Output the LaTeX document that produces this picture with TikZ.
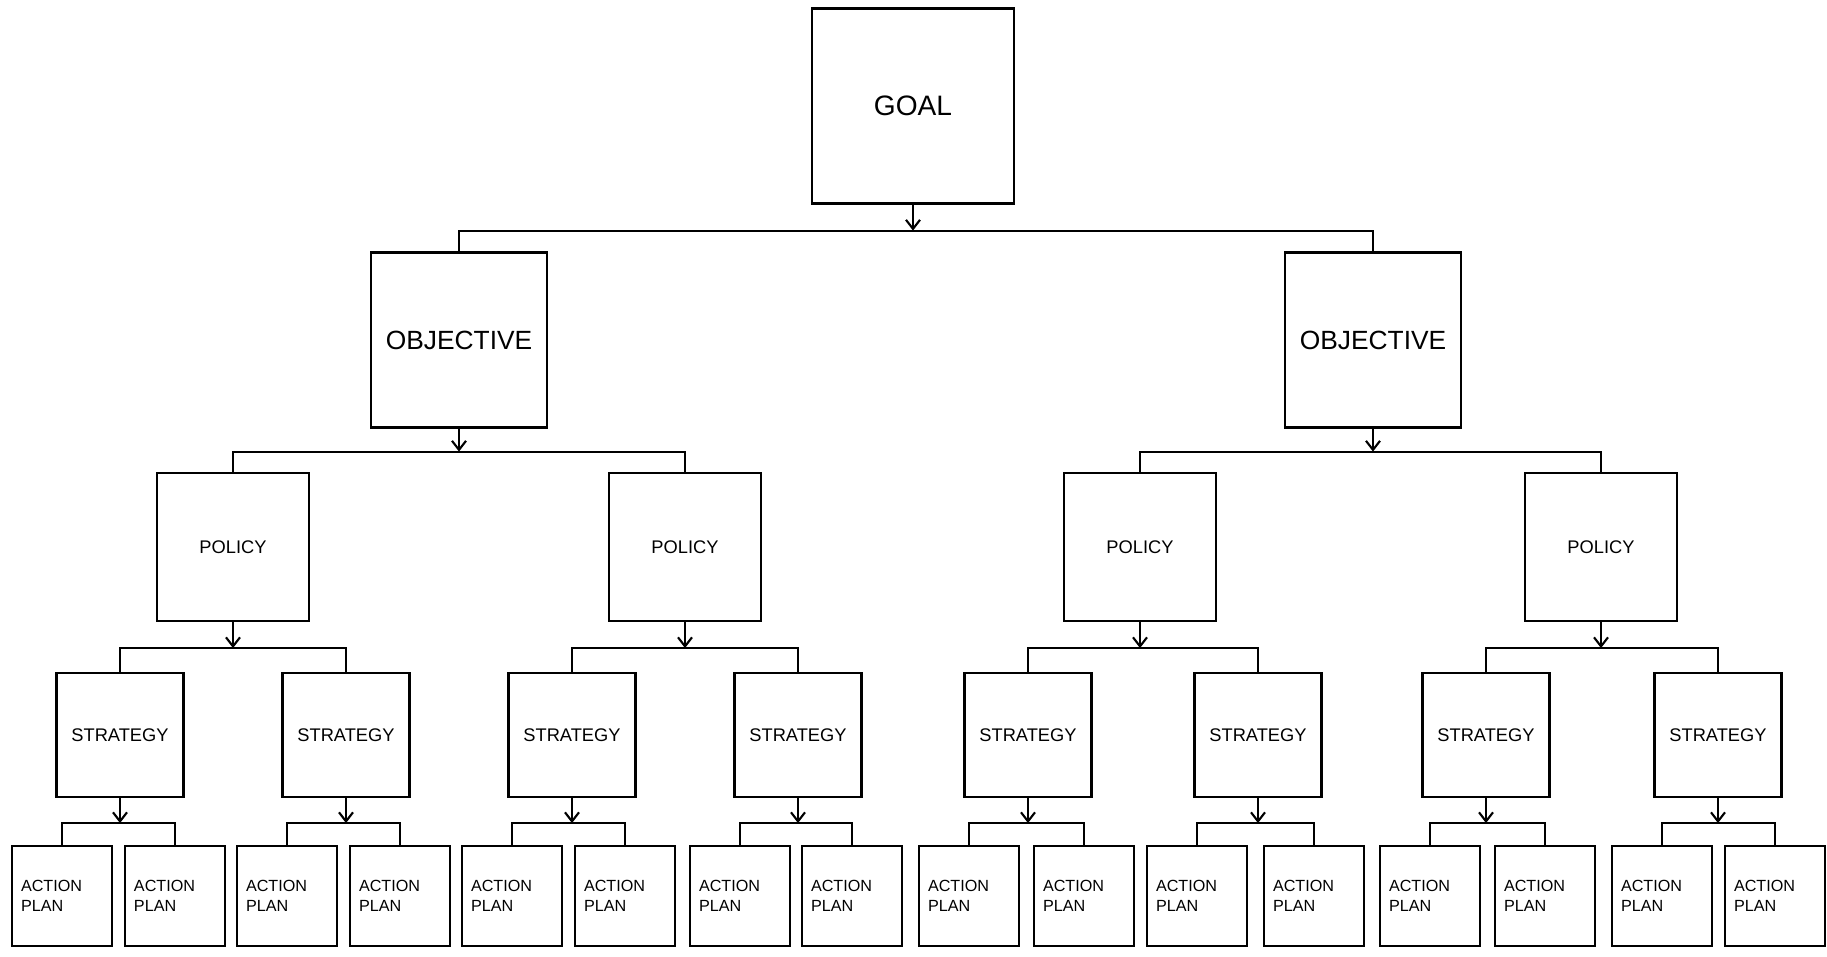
\documentclass[tikz,border=0pt]{standalone}
\usepackage{fontspec}
\setmainfont{Liberation Sans}
\usetikzlibrary{arrows.meta}
\tikzset{box/.style={draw, line width=0.6pt, inner sep=0pt},
	goalbox/.style={box, minimum width=20.2mm, minimum height=19.5mm, font=\fontsize{8}{9}\selectfont},
	objbox/.style={box, minimum width=17.6mm, minimum height=17.5mm, font=\fontsize{7.5}{9}\selectfont},
	polbox/.style={box, minimum width=15.2mm, minimum height=14.8mm, font=\fontsize{5.2}{6}\selectfont},
	strbox/.style={box, minimum width=12.7mm, minimum height=12.4mm, font=\fontsize{5.2}{6}\selectfont},
	actbox/.style={box, minimum width=10mm, minimum height=10mm, text width=8.2mm, inner xsep=0.9mm,
		align=left, font=\fontsize{4.6}{5.7}\selectfont},
	link/.style={line width=0.6pt},
	down/.style={link, -{Straight Barb[length=0.9mm,width=1.4mm]}}}

\begin{document}
\begin{tikzpicture}[x=0.1mm, y=-0.1mm]
		\useasboundingbox (0,0) rectangle (1827,956);
		\node[goalbox] (goal) at (913,106){GOAL};
		\node[objbox] (obj1) at (459,340){OBJECTIVE};
		\node[objbox] (obj2) at (1373,340){OBJECTIVE};
		\node[polbox] (pol1) at (233,547){POLICY};
		\node[polbox] (pol2) at (685,547){POLICY};
		\node[polbox] (pol3) at (1140,547){POLICY};
		\node[polbox] (pol4) at (1601,547){POLICY};
		\node[strbox] (str1) at (120,735){STRATEGY};
		\node[strbox] (str2) at (346,735){STRATEGY};
		\node[strbox] (str3) at (572,735){STRATEGY};
		\node[strbox] (str4) at (798,735){STRATEGY};
		\node[strbox] (str5) at (1028,735){STRATEGY};
		\node[strbox] (str6) at (1258,735){STRATEGY};
		\node[strbox] (str7) at (1486,735){STRATEGY};
		\node[strbox] (str8) at (1718,735){STRATEGY};
		\node[actbox] (act1) at (62,896){ACTION\\PLAN};
		\node[actbox] (act2) at (175,896){ACTION\\PLAN};
		\node[actbox] (act3) at (287,896){ACTION\\PLAN};
		\node[actbox] (act4) at (400,896){ACTION\\PLAN};
		\node[actbox] (act5) at (512,896){ACTION\\PLAN};
		\node[actbox] (act6) at (625,896){ACTION\\PLAN};
		\node[actbox] (act7) at (740,896){ACTION\\PLAN};
		\node[actbox] (act8) at (852,896){ACTION\\PLAN};
		\node[actbox] (act9) at (969,896){ACTION\\PLAN};
		\node[actbox] (act10) at (1084,896){ACTION\\PLAN};
		\node[actbox] (act11) at (1197,896){ACTION\\PLAN};
		\node[actbox] (act12) at (1314,896){ACTION\\PLAN};
		\node[actbox] (act13) at (1430,896){ACTION\\PLAN};
		\node[actbox] (act14) at (1545,896){ACTION\\PLAN};
		\node[actbox] (act15) at (1662,896){ACTION\\PLAN};
		\node[actbox] (act16) at (1775,896){ACTION\\PLAN};
		% goal and objectives
		\draw[down] (goal.south) -- ++(0,26) coordinate (j0);
		\draw[link] (obj1) |- (j0) -| (obj2);
		\draw[down] (obj1.south) -- ++(0,23) coordinate (j1);
		\draw[link] (pol1) |- (j1) -| (pol2);
		\draw[down] (obj2.south) -- ++(0,23) coordinate (j2);
		\draw[link] (pol3) |- (j2) -| (pol4);
		% policies
		\draw[down] (pol1.south) -- ++(0,26) coordinate (p1);
		\draw[link] (str1) |- (p1) -| (str2);
		\draw[down] (pol2.south) -- ++(0,26) coordinate (p2);
		\draw[link] (str3) |- (p2) -| (str4);
		\draw[down] (pol3.south) -- ++(0,26) coordinate (p3);
		\draw[link] (str5) |- (p3) -| (str6);
		\draw[down] (pol4.south) -- ++(0,26) coordinate (p4);
		\draw[link] (str7) |- (p4) -| (str8);
		% strategies
		\draw[down] (str1.south) -- ++(0,25) coordinate (s1);
		\draw[link] (act1) |- (s1) -| (act2);
		\draw[down] (str2.south) -- ++(0,25) coordinate (s2);
		\draw[link] (act3) |- (s2) -| (act4);
		\draw[down] (str3.south) -- ++(0,25) coordinate (s3);
		\draw[link] (act5) |- (s3) -| (act6);
		\draw[down] (str4.south) -- ++(0,25) coordinate (s4);
		\draw[link] (act7) |- (s4) -| (act8);
		\draw[down] (str5.south) -- ++(0,25) coordinate (s5);
		\draw[link] (act9) |- (s5) -| (act10);
		\draw[down] (str6.south) -- ++(0,25) coordinate (s6);
		\draw[link] (act11) |- (s6) -| (act12);
		\draw[down] (str7.south) -- ++(0,25) coordinate (s7);
		\draw[link] (act13) |- (s7) -| (act14);
		\draw[down] (str8.south) -- ++(0,25) coordinate (s8);
		\draw[link] (act15) |- (s8) -| (act16);
\end{tikzpicture}
\end{document}
